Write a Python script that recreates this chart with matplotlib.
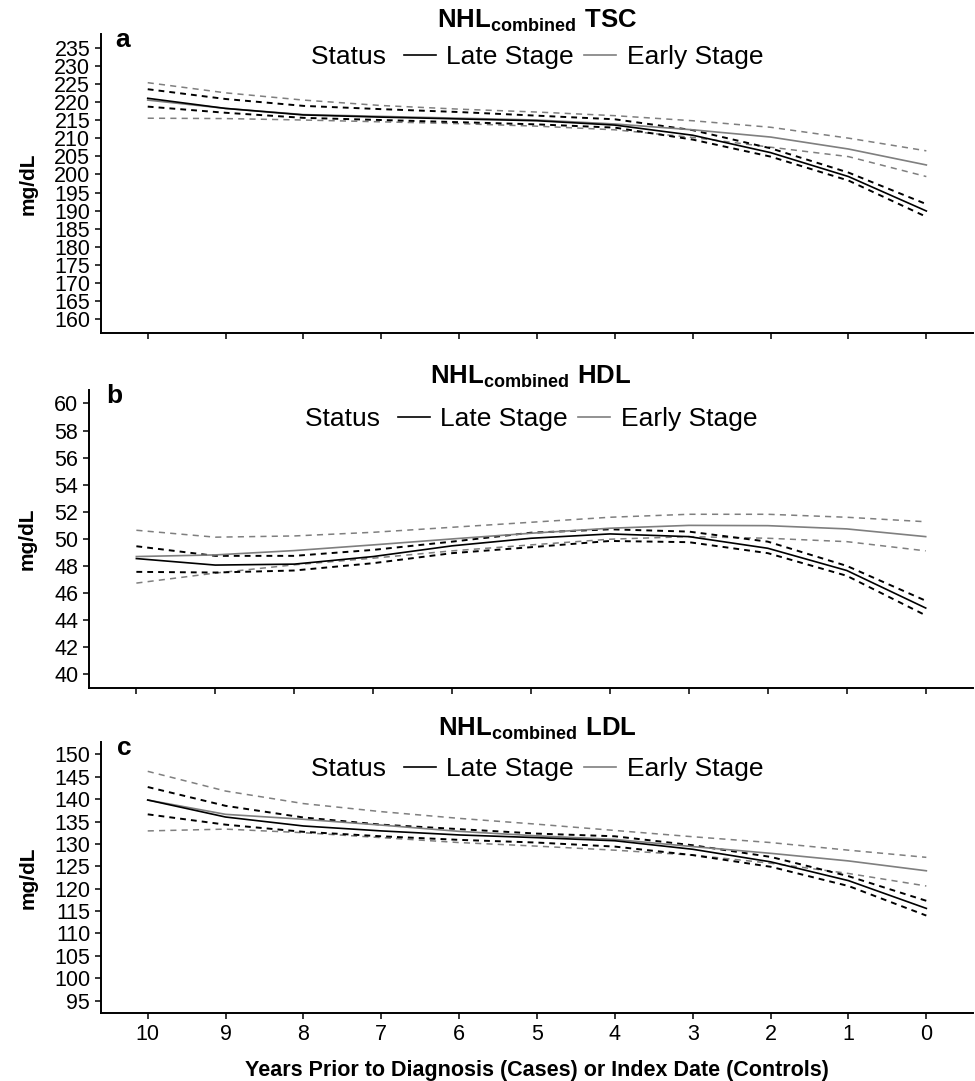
import matplotlib
matplotlib.use("Agg")
import matplotlib.pyplot as plt
from matplotlib.lines import Line2D

plt.rcParams['font.family'] = ['Liberation Sans', 'DejaVu Sans']
plt.rcParams['mathtext.fontset'] = 'custom'
plt.rcParams['mathtext.rm'] = 'Liberation Sans'
plt.rcParams['mathtext.bf'] = 'Liberation Sans:bold'

years = [10, 9, 8, 7, 6, 5, 4, 3, 2, 1, 0]

# total serum cholesterol
tsc_late = [221.0, 218.2, 216.4, 215.8, 215.3, 214.8, 213.6, 210.8, 206.0, 199.4, 189.9]
tsc_late_lo = [218.7, 217.0, 215.6, 215.0, 214.4, 213.8, 212.9, 209.6, 204.9, 198.3, 188.3]
tsc_late_hi = [223.5, 220.8, 218.9, 218.0, 217.2, 216.2, 215.2, 212.2, 207.2, 200.5, 191.8]
tsc_early = [220.5, 218.2, 216.5, 216.0, 215.5, 215.0, 213.9, 212.3, 210.3, 207.0, 202.6]
tsc_early_lo = [215.5, 215.4, 215.0, 214.5, 214.0, 213.3, 212.3, 210.2, 207.5, 204.9, 199.4]
tsc_early_hi = [225.3, 222.5, 220.5, 219.0, 218.0, 217.2, 216.2, 214.8, 213.0, 210.0, 206.5]

# HDL
hdl_late = [48.55, 48.07, 48.14, 48.70, 49.49, 50.05, 50.37, 50.17, 49.31, 47.67, 44.90]
hdl_late_lo = [47.57, 47.52, 47.67, 48.21, 48.95, 49.39, 49.85, 49.76, 48.95, 47.28, 44.36]
hdl_late_hi = [49.46, 48.75, 48.75, 49.19, 49.80, 50.46, 50.71, 50.54, 49.80, 48.01, 45.44]
hdl_early = [48.70, 48.82, 49.14, 49.56, 50.00, 50.42, 50.79, 51.00, 50.98, 50.74, 50.17]
hdl_early_lo = [46.74, 47.48, 48.09, 48.58, 49.12, 49.56, 49.98, 50.17, 50.05, 49.80, 49.12]
hdl_early_hi = [50.64, 50.13, 50.22, 50.49, 50.86, 51.23, 51.60, 51.82, 51.82, 51.60, 51.27]

# LDL
ldl_late = [139.8, 136.0, 134.0, 132.9, 132.0, 131.4, 130.7, 128.8, 126.0, 121.8, 115.6]
ldl_late_lo = [136.6, 134.3, 132.7, 131.7, 130.9, 130.3, 129.4, 127.5, 124.9, 120.6, 114.0]
ldl_late_hi = [142.7, 138.5, 135.9, 134.3, 133.3, 132.3, 131.7, 129.7, 127.1, 122.8, 117.3]
ldl_early = [139.8, 136.6, 135.5, 134.2, 132.8, 131.8, 131.0, 129.4, 127.9, 126.2, 124.0]
ldl_early_lo = [132.9, 133.3, 132.5, 131.4, 130.3, 129.5, 128.6, 127.5, 125.7, 123.4, 120.6]
ldl_early_hi = [146.2, 141.8, 139.0, 137.2, 135.7, 134.4, 133.0, 131.6, 130.3, 128.6, 127.0]

panels = [
    dict(name='TSC', letter='a', late=tsc_late, late_lo=tsc_late_lo, late_hi=tsc_late_hi,
         early=tsc_early, early_lo=tsc_early_lo, early_hi=tsc_early_hi,
         ticks=list(range(160, 236, 5)), ylim=(156.25, 238.75),
         pos=[0.1036, 0.6920, 0.8944, 0.2766], leg_y=0.922, let_y=0.956, let_x=0.016, lab_x=-0.073),
    dict(name='HDL', letter='b', late=hdl_late, late_lo=hdl_late_lo, late_hi=hdl_late_hi,
         early=hdl_early, early_lo=hdl_early_lo, early_hi=hdl_early_hi,
         ticks=list(range(40, 61, 2)), ylim=(39, 61),
         pos=[0.0913, 0.3636, 0.9067, 0.2757], leg_y=0.903, let_y=0.956, let_x=0.020, lab_x=-0.059),
    dict(name='LDL', letter='c', late=ldl_late, late_lo=ldl_late_lo, late_hi=ldl_late_hi,
         early=ldl_early, early_lo=ldl_early_lo, early_hi=ldl_early_hi,
         ticks=list(range(95, 151, 5)), ylim=(92.25, 152.75),
         pos=[0.1036, 0.0629, 0.8944, 0.2507], leg_y=0.901, let_y=0.952, let_x=0.018, lab_x=-0.073),
]

grey = '#7f7f7f'
fig = plt.figure(figsize=(9.75, 10.81), dpi=100)

for i, p in enumerate(panels):
    ax = fig.add_axes(p['pos'])
    ax.plot(years, p['early_hi'], color=grey, lw=1.1, dashes=(4.0, 3.4))
    ax.plot(years, p['early_lo'], color=grey, lw=1.1, dashes=(4.0, 3.4))
    ax.plot(years, p['late_hi'], color='black', lw=1.4, dashes=(3.0, 2.6))
    ax.plot(years, p['late_lo'], color='black', lw=1.4, dashes=(3.0, 2.6))
    ax.plot(years, p['early'], color=grey, lw=1.2)
    ax.plot(years, p['late'], color='black', lw=1.2)

    ax.set_xlim(10.6, -0.6)
    ax.set_ylim(*p['ylim'])
    ax.set_xticks(years)
    ax.set_yticks(p['ticks'])
    for s in ['top', 'right']:
        ax.spines[s].set_visible(False)
    for s in ['left', 'bottom']:
        ax.spines[s].set_linewidth(1.4)
    ax.tick_params(axis='both', length=4.3, width=1.1, labelsize=15.5, pad=3.5, color='black')
    if i < 2:
        ax.tick_params(axis='x', labelbottom=False)
    else:
        ax.set_xlabel('Years Prior to Diagnosis (Cases) or Index Date (Controls)',
                      fontsize=15.5, fontweight='bold', labelpad=11)

    ax.set_ylabel('mg/dL', fontsize=15, fontweight='bold')
    ax.yaxis.set_label_coords(p['lab_x'], 0.5)
    ax.set_title(r'$\mathbf{NHL_{combined}\ ' + p['name'] + '}$', fontsize=18.5, pad=4)
    ax.text(p['let_x'], p['let_y'], p['letter'], transform=ax.transAxes,
            fontsize=19, fontweight='bold', va='baseline')

    handles = [Line2D([], [], color='none'),
               Line2D([], [], color='black', lw=1.2),
               Line2D([], [], color=grey, lw=1.2)]
    shift = 21 / (p['pos'][2] * 975)
    ax.legend(handles, ['Status ', 'Late Stage', 'Early Stage'], ncol=3, loc='center',
              bbox_to_anchor=(0.5 - shift, p['leg_y']), frameon=False, fontsize=19,
              handlelength=1.2, handletextpad=0.4, columnspacing=0.4,
              borderpad=0, borderaxespad=0)

fig.savefig('out.png', dpi=100)
